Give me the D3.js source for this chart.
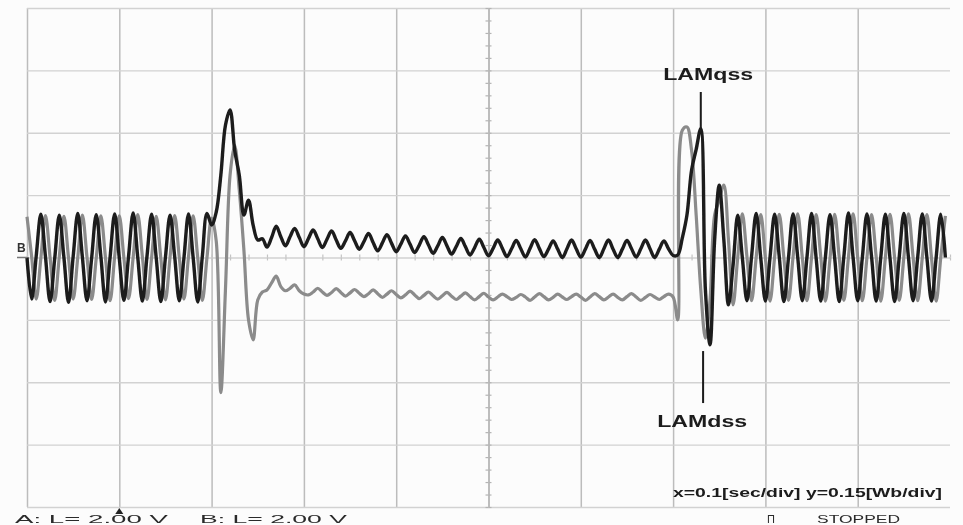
<!DOCTYPE html>
<html>
<head>
<meta charset="utf-8">
<script src="https://cdn.jsdelivr.net/npm/d3@7"></script>
<style>
  html, body { margin: 0; padding: 0; background: #fcfcfc; }
  svg { display: block; }
</style>
</head>
<body>
<svg id="scope" width="963" height="525"></svg>
<script>
// Scope record: 1 s across 10 divisions, flux in Wb, one sample every 5 ms.
const SAMPLE_INTERVAL = 0.005; // s

// q-axis stator flux linkage (Wb)
const lamQss = [
  0.000, -0.100, 0.004, 0.104, 0.002, -0.106, -0.003, 0.102, 0.000, -0.108,
  0.002, 0.106, 0.001, -0.104, -0.002, 0.103, 0.003, -0.107, 0.000, 0.105,
  -0.002, -0.103, 0.002, 0.107, 0.000, -0.105, 0.003, 0.104, -0.001, -0.106,
  0.001, 0.102, 0.002, -0.104, -0.002, 0.105, 0.000, -0.107, 0.004, 0.106,
  0.078, 0.109, 0.198, 0.318, 0.355, 0.258, 0.198, 0.102, 0.138, 0.078,
  0.042, 0.045, 0.025, 0.048, 0.075, 0.050, 0.028, 0.050, 0.070, 0.048,
  0.026, 0.046, 0.066, 0.045, 0.024, 0.044, 0.064, 0.042, 0.022, 0.040,
  0.060, 0.040, 0.020, 0.038, 0.058, 0.036, 0.016, 0.035, 0.055, 0.034,
  0.014, 0.032, 0.052, 0.032, 0.012, 0.030, 0.050, 0.030, 0.010, 0.028,
  0.048, 0.028, 0.008, 0.026, 0.046, 0.026, 0.006, 0.024, 0.044, 0.024,
  0.004, 0.022, 0.042, 0.022, 0.002, 0.021, 0.041, 0.021, 0.001, 0.022,
  0.043, 0.022, 0.002, 0.020, 0.040, 0.020, 0.000, 0.021, 0.042, 0.021,
  0.001, 0.020, 0.041, 0.020, 0.000, 0.021, 0.042, 0.020, 0.000, 0.020,
  0.041, 0.021, 0.001, 0.021, 0.042, 0.021, 0.000, 0.020, 0.040, 0.021,
  0.005, 0.006, 0.047, 0.102, 0.210, 0.260, 0.310, -0.078, -0.210, 0.042,
  0.174, 0.042, -0.114, -0.018, 0.102, 0.000, -0.104, 0.002, 0.106, -0.002,
  -0.105, 0.000, 0.104, 0.002, -0.106, -0.001, 0.105, 0.001, -0.104, 0.000,
  0.106, -0.002, -0.105, 0.001, 0.103, 0.000, -0.106, 0.002, 0.107, 0.000,
  -0.104, -0.001, 0.105, 0.002, -0.105, 0.000, 0.104, -0.002, -0.106, 0.001,
  0.106, 0.000, -0.104, 0.001, 0.105, -0.001, -0.105, 0.000, 0.104, 0.000
];

// d-axis stator flux linkage (Wb)
const lamDss = [
  0.098, 0.003, -0.100, -0.002, 0.101, 0.000, -0.103, 0.002, 0.099, -0.001,
  -0.100, 0.000, 0.102, 0.001, -0.101, -0.002, 0.100, 0.000, -0.104, 0.002,
  0.100, -0.001, -0.099, 0.000, 0.103, 0.002, -0.101, 0.000, 0.099, -0.002,
  -0.102, 0.001, 0.101, 0.000, -0.100, 0.002, 0.100, -0.001, -0.103, 0.000,
  0.095, 0.040, -0.325, -0.078, 0.198, 0.270, 0.162, 0.018, -0.150, -0.198,
  -0.102, -0.083, -0.078, -0.061, -0.045, -0.070, -0.080, -0.074, -0.066, -0.080,
  -0.088, -0.090, -0.083, -0.074, -0.083, -0.091, -0.084, -0.075, -0.084, -0.093,
  -0.085, -0.077, -0.086, -0.094, -0.087, -0.078, -0.087, -0.096, -0.088, -0.080,
  -0.089, -0.097, -0.090, -0.081, -0.090, -0.099, -0.091, -0.083, -0.092, -0.100,
  -0.092, -0.084, -0.093, -0.101, -0.093, -0.085, -0.094, -0.102, -0.094, -0.086,
  -0.095, -0.102, -0.095, -0.088, -0.094, -0.101, -0.096, -0.089, -0.095, -0.103,
  -0.095, -0.087, -0.094, -0.102, -0.096, -0.088, -0.095, -0.101, -0.094, -0.088,
  -0.095, -0.103, -0.095, -0.087, -0.094, -0.102, -0.095, -0.088, -0.096, -0.102,
  -0.094, -0.087, -0.095, -0.103, -0.096, -0.089, -0.095, -0.101, -0.094, -0.088,
  -0.095, -0.150, 0.306, 0.314, 0.258, 0.102, -0.078, -0.194, -0.102, 0.102,
  0.138, 0.174, 0.042, -0.114, 0.000, 0.105, 0.002, -0.104, 0.000, 0.103,
  -0.002, -0.105, 0.001, 0.104, 0.000, -0.103, 0.002, 0.105, -0.001, -0.104,
  0.000, 0.103, 0.001, -0.105, -0.002, 0.104, 0.000, -0.103, 0.001, 0.105,
  0.000, -0.104, -0.001, 0.103, 0.002, -0.105, 0.000, 0.104, -0.001, -0.103,
  0.000, 0.105, 0.001, -0.104, 0.000, 0.103, -0.002, -0.105, 0.000, 0.100
];

// Graticule: 10 time divisions of 0.1 s, 8 flux divisions of 0.15 Wb
const gridTimes = [0, 0.1, 0.2, 0.3, 0.4, 0.5, 0.6, 0.7, 0.8, 0.9];
const gridLevels = [-0.6, -0.45, -0.3, -0.15, 0, 0.15, 0.3, 0.45, 0.6];
const timeRange = [0, 1.0];
const fluxRange = [-0.6, 0.6];

// Trace names with pointer lines: label position (t, v), pointer [t, v from, v to]
const traceLabels = [
  { name: "LAMqss", t: 0.738, v: 0.427, tip: [0.73, 0.398, 0.31] },
  { name: "LAMdss", t: 0.7315, v: -0.408, tip: [0.7325, -0.225, -0.35] }
];
const scaleNote = "x=0.1[sec/div] y=0.15[Wb/div]";
const statusLeft = ["A: L= 2.00 V", "B: L= 2.00 V"];
const statusRight = ["\u03A0", "STOPPED"];

const svg = d3.select("#scope");
const x = d3.scaleLinear().domain(timeRange).range([27, 950]);
const y = d3.scaleLinear().domain(fluxRange).range([507, 8]);

const defs = svg.append("defs");
defs.append("filter").attr("id", "soft").attr("x", "-5%").attr("y", "-5%")
  .attr("width", "110%").attr("height", "110%")
  .append("feGaussianBlur").attr("stdDeviation", 0.7);
defs.append("filter").attr("id", "softer")
  .append("feGaussianBlur").attr("stdDeviation", 0.45);

svg.append("rect").attr("width", 963).attr("height", 525).attr("fill", "#fcfcfc");

// vertical graticule lines
const gV = svg.append("g").attr("transform", `translate(0,${y(fluxRange[0])})`)
  .call(d3.axisBottom(x).tickValues(gridTimes).tickFormat("")
    .tickSize(-(y(fluxRange[0]) - y(fluxRange[1]))));
gV.select(".domain").remove();
gV.selectAll("line").attr("stroke", "#bcbcbc").attr("stroke-width", 1.5);

// horizontal graticule lines
const gH = svg.append("g").attr("transform", `translate(${x(timeRange[0])},0)`)
  .call(d3.axisLeft(y).tickValues(gridLevels).tickFormat("")
    .tickSize(-(x(timeRange[1]) - x(timeRange[0]))));
gH.select(".domain").remove();
gH.selectAll("line").attr("stroke", "#d2d2d2").attr("stroke-width", 1.3);

// centre axes with minor division ticks
const minorFlux = d3.range(-0.6, 0.6001, 0.03);
const minorTime = d3.range(0, 1.0001, 0.02);
[3, -3].forEach(s => {
  const a = svg.append("g").attr("transform", `translate(${x(0.5)},0)`)
    .call(d3.axisLeft(y).tickValues(minorFlux).tickFormat("").tickSizeOuter(0).tickSizeInner(s));
  a.selectAll("line").attr("stroke", "#b4b4b4").attr("stroke-width", 1.2);
  a.select(".domain").attr("stroke", "#bcbcbc").attr("stroke-width", 1.5);
  const b = svg.append("g").attr("transform", `translate(0,${y(0)})`)
    .call(d3.axisBottom(x).tickValues(minorTime).tickFormat("").tickSizeOuter(0).tickSizeInner(s));
  b.selectAll("line").attr("stroke", "#c4c4c4").attr("stroke-width", 1.2);
  b.select(".domain").attr("stroke", "none");
});

// traces
const line = d3.line()
  .x((d, i) => x(i * SAMPLE_INTERVAL))
  .y(d => y(d))
  .curve(d3.curveCatmullRom.alpha(0.5));

const traces = svg.append("g").attr("filter", "url(#soft)");
traces.append("path").datum(lamDss)
  .attr("d", line).attr("fill", "none")
  .attr("stroke", "#8b8b8b").attr("stroke-width", 3.2)
  .attr("stroke-linejoin", "round");
traces.append("path").datum(lamQss)
  .attr("d", line).attr("fill", "none")
  .attr("stroke", "#1c1c1c").attr("stroke-width", 3.4)
  .attr("stroke-linejoin", "round");

// labels with pointer lines
const ann = svg.append("g").attr("filter", "url(#softer)");
traceLabels.forEach(l => {
  ann.append("line")
    .attr("x1", x(l.tip[0])).attr("x2", x(l.tip[0]))
    .attr("y1", y(l.tip[1])).attr("y2", y(l.tip[2]))
    .attr("stroke", "#1a1a1a").attr("stroke-width", 2);
  ann.append("text")
    .attr("x", x(l.t)).attr("y", y(l.v))
    .attr("text-anchor", "middle")
    .attr("font-family", "Liberation Sans, Arial, sans-serif")
    .attr("font-weight", "bold").attr("font-size", 16)
    .attr("textLength", 90).attr("lengthAdjust", "spacingAndGlyphs")
    .attr("fill", "#1a1a1a").text(l.name);
});

// scale note
ann.append("text")
  .attr("x", 673).attr("y", 497)
  .attr("font-family", "Liberation Sans, Arial, sans-serif")
  .attr("font-weight", "bold").attr("font-size", 13)
  .attr("textLength", 269).attr("lengthAdjust", "spacingAndGlyphs")
  .attr("fill", "#1a1a1a").text(scaleNote);

// channel marker
ann.append("text").attr("x", 17).attr("y", 252)
  .attr("font-family", "Liberation Sans, Arial, sans-serif")
  .attr("font-weight", "bold").attr("font-size", 12)
  .attr("fill", "#333").text("B");
ann.append("line").attr("x1", 17).attr("x2", 27).attr("y1", y(0)).attr("y2", y(0))
  .attr("stroke", "#777").attr("stroke-width", 1.5);

// trigger marker
ann.append("path")
  .attr("d", `M${x(0.1) - 4},${y(-0.6) + 7}L${x(0.1) + 4},${y(-0.6) + 7}L${x(0.1)},${y(-0.6) + 1}Z`)
  .attr("fill", "#222");

// status line along the lower edge
const status = svg.append("g").attr("filter", "url(#soft)")
  .attr("font-family", "Liberation Sans, Arial, sans-serif")
  .attr("font-size", 11).attr("fill", "#2a2a2a");
status.append("text").attr("x", 15).attr("y", 523)
  .attr("textLength", 153).attr("lengthAdjust", "spacingAndGlyphs").text(statusLeft[0]);
status.append("text").attr("x", 200).attr("y", 523)
  .attr("textLength", 147).attr("lengthAdjust", "spacingAndGlyphs").text(statusLeft[1]);
status.append("text").attr("x", 767).attr("y", 523).text(statusRight[0]);
status.append("text").attr("x", 817).attr("y", 523)
  .attr("textLength", 83).attr("lengthAdjust", "spacingAndGlyphs").text(statusRight[1]);
</script>
</body>
</html>
